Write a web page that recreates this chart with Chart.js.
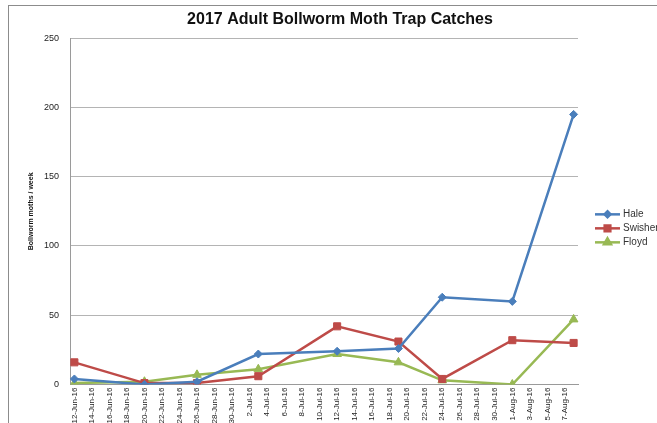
<!DOCTYPE html>
<html>
<head>
<meta charset="utf-8">
<script src="https://cdn.jsdelivr.net/npm/chart.js@4"></script>
<style>
    html, body { margin: 0; padding: 0; background: #fff; overflow: hidden; width: 657px; height: 423px; }
    #frame { position: absolute; left: 8px; top: 5px; width: 800px; height: 600px;
             border-left: 1px solid #8c8c8c; border-top: 1px solid #8c8c8c; }
    #chart { position: absolute; left: 9px; top: 6px; }
</style>
</head>
<body>
<div id="frame"></div>
<canvas id="chart" width="662" height="417"></canvas>
<script>
// first and last day shown on the date axis
const axisStart = '2016-06-12';
const axisEnd = '2016-08-08';

// trap check dates and weekly catches
const sampleDays = ['12-Jun-16', '20-Jun-16', '26-Jun-16', '3-Jul-16', '12-Jul-16', '19-Jul-16', '24-Jul-16', '1-Aug-16', '8-Aug-16'];
const hale = [4, 0, 2, 22, 24, 26, 63, 60, 195];
const swisher = [16, 1, 1, 6, 42, 31, 4, 32, 30];
const floyd = [1, 2, 7, 11, 22, 16, 3, 0, 47];

const yTicks = [0, 50, 100, 150, 200, 250];

const monthNames = ['Jan', 'Feb', 'Mar', 'Apr', 'May', 'Jun', 'Jul', 'Aug', 'Sep', 'Oct', 'Nov', 'Dec'];

function buildDayLabels(start, end) {
    const labels = [];
    const current = new Date(start + 'T00:00:00');
    const last = new Date(end + 'T00:00:00');
    while (current <= last) {
        labels.push(`${current.getDate()}-${monthNames[current.getMonth()]}-${String(current.getFullYear()).slice(2)}`);
        current.setDate(current.getDate() + 1);
    }
    return labels;
}

const dayLabels = buildDayLabels(axisStart, axisEnd);

function toPoints(values) {
    return values.map((v, i) => ({ x: sampleDays[i], y: v }));
}

const series = [
    { label: 'Hale', values: hale, color: '#4a7ebb', pointStyle: 'rectRot', radius: 4 },
    { label: 'Swisher', values: swisher, color: '#be4b48', pointStyle: 'rect', radius: 5 },
    { label: 'Floyd', values: floyd, color: '#98b954', pointStyle: 'triangle', radius: 5 }
];

// Excel style legend: short line with the marker in the middle
const sideLegend = {
    id: 'sideLegend',
    afterDraw(chart) {
        const { ctx, chartArea } = chart;
        const x0 = chartArea.right + 17;
        const midY = (chartArea.top + chartArea.bottom) / 2 + 17;
        ctx.save();
        ctx.font = '10px "Liberation Sans", Arial, sans-serif';
        ctx.textBaseline = 'middle';
        chart.data.datasets.forEach((ds, i) => {
            const y = midY + (i - 1) * 14;
            ctx.strokeStyle = ds.borderColor;
            ctx.fillStyle = ds.borderColor;
            ctx.lineWidth = 2.5;
            ctx.beginPath();
            ctx.moveTo(x0, y);
            ctx.lineTo(x0 + 25, y);
            ctx.stroke();
            Chart.helpers.drawPoint(ctx, {
                pointStyle: ds.pointStyle,
                radius: ds.pointRadius - 1,
                rotation: 0,
                borderWidth: 1
            }, x0 + 12.5, y);
            ctx.fillStyle = '#333';
            ctx.fillText(ds.label, x0 + 28, y);
        });
        ctx.restore();
    }
};

const baseFont = '"Liberation Sans", Arial, sans-serif';

new Chart(document.getElementById('chart'), {
    type: 'line',
    data: {
        labels: dayLabels,
        datasets: series.map(s => ({
            label: s.label,
            data: toPoints(s.values),
            borderColor: s.color,
            backgroundColor: s.color,
            borderWidth: 2.5,
            pointStyle: s.pointStyle,
            pointRadius: s.radius,
            pointBorderWidth: 1,
            tension: 0
        }))
    },
    options: {
        responsive: false,
        animation: false,
        layout: { padding: 0 },
        plugins: {
            legend: { display: false },
            tooltip: { enabled: false },
            title: {
                display: true,
                text: '2017 Adult Bollworm Moth Trap Catches',
                color: '#111',
                font: { family: baseFont, size: 16, weight: 'bold' },
                padding: { top: 4, bottom: 9 }
            }
        },
        scales: {
            x: {
                type: 'category',
                offset: true,
                afterFit: scale => { scale.height = 38.5; },
                grid: { display: false, drawTicks: false },
                border: { display: true, color: '#9a9a9a', width: 1 },
                ticks: {
                    autoSkip: false,
                    maxRotation: 90,
                    minRotation: 90,
                    padding: 3,
                    color: '#222',
                    font: { family: baseFont, size: 8 },
                    callback: function(value, index) {
                        return index % 2 === 0 ? this.getLabelForValue(value) : '';
                    }
                }
            },
            y: {
                min: yTicks[0],
                max: yTicks[yTicks.length - 1],
                afterBuildTicks: scale => { scale.ticks = yTicks.map(v => ({ value: v })); },
                afterFit: scale => { scale.width = 61; },
                grid: { color: '#b4b4b4', drawTicks: false },
                border: { display: true, color: '#9a9a9a', width: 1 },
                ticks: {
                    padding: 11,
                    color: '#222',
                    font: { family: baseFont, size: 9 }
                },
                title: {
                    display: true,
                    text: 'Bollworm moths / week',
                    color: '#111',
                    padding: { top: 18, bottom: 0 },
                    font: { family: baseFont, size: 7, weight: 'bold' }
                }
            },
            // empty space on the right where the legend sits
            legendSpace: {
                type: 'linear',
                position: 'right',
                display: true,
                afterFit: scale => { scale.width = 93; },
                grid: { display: false, drawTicks: false },
                border: { display: false },
                ticks: { display: false }
            }
        }
    },
    plugins: [sideLegend]
});
</script>
</body>
</html>
